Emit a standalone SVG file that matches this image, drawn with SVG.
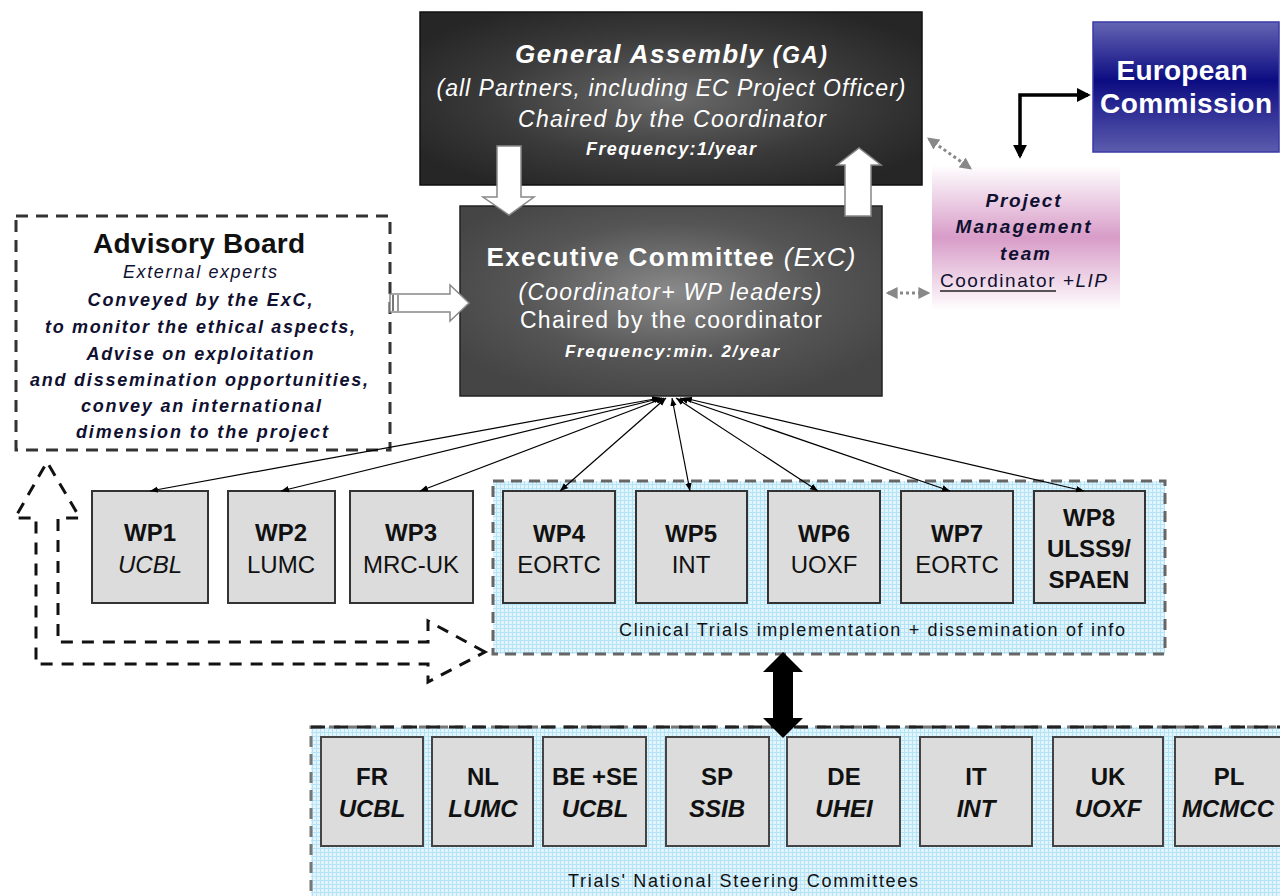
<svg xmlns="http://www.w3.org/2000/svg" width="1280" height="896" viewBox="0 0 1280 896">
<defs>
  <radialGradient id="gDarkGA" cx="0.5" cy="0.5" r="0.6">
    <stop offset="0" stop-color="#6a6a6a"/>
    <stop offset="0.6" stop-color="#3a3a3a"/>
    <stop offset="1" stop-color="#262626"/>
  </radialGradient>
  <radialGradient id="gDarkExC" cx="0.5" cy="0.45" r="0.6">
    <stop offset="0" stop-color="#8a8a8a"/>
    <stop offset="0.6" stop-color="#555555"/>
    <stop offset="1" stop-color="#454545"/>
  </radialGradient>
  <linearGradient id="gEC" x1="0" y1="0" x2="0" y2="1">
    <stop offset="0" stop-color="#6464b4"/>
    <stop offset="0.45" stop-color="#0c0c82"/>
    <stop offset="1" stop-color="#5c5cae"/>
  </linearGradient>
  <linearGradient id="gPM" x1="0" y1="0" x2="0" y2="1">
    <stop offset="0" stop-color="#ffffff"/>
    <stop offset="0.5" stop-color="#d89cc8"/>
    <stop offset="1" stop-color="#ffffff"/>
  </linearGradient>
  <pattern id="grid" width="4" height="4" patternUnits="userSpaceOnUse">
    <rect width="4" height="4" fill="#e2f5fd"/>
    <path d="M0,0.5 H4 M0.5,0 V4" stroke="#b4e2f6" stroke-width="1"/>
  </pattern>
  <marker id="mThin" viewBox="0 0 10 10" refX="10" refY="5" markerWidth="8" markerHeight="8" orient="auto-start-reverse" markerUnits="userSpaceOnUse">
    <path d="M0,1 L10,5 L0,9 Z" fill="#000"/>
  </marker>
  <marker id="mBlack" viewBox="0 0 10 10" refX="8" refY="5" markerWidth="14" markerHeight="14" orient="auto-start-reverse" markerUnits="userSpaceOnUse">
    <path d="M0,0 L10,5 L0,10 Z" fill="#000"/>
  </marker>
  <marker id="mGray" viewBox="0 0 10 10" refX="8" refY="5" markerWidth="12" markerHeight="12" orient="auto-start-reverse" markerUnits="userSpaceOnUse">
    <path d="M0,0 L10,5 L0,10 Z" fill="#888"/>
  </marker>
</defs>
<style>
  text { font-family: "Liberation Sans", Arial, sans-serif; }
  .wt { fill: #ffffff; }
  .dk { fill: #101030; }
  .b { font-weight: bold; }
  .i { font-style: italic; }
  .wp { fill: #dcdcdc; stroke: #333; stroke-width: 2; }
  .ct { fill: #dcdcdc; stroke: #444; stroke-width: 2; }
  .lbl { font-size: 24px; text-anchor: middle; fill: #111; }
  .thin { stroke: #000; stroke-width: 1.2; fill: none; marker-start: url(#mThin); marker-end: url(#mThin); }
  .dot { stroke: #888; stroke-width: 3; stroke-dasharray: 3 3; fill: none; marker-start: url(#mGray); marker-end: url(#mGray); }
  .blk { fill: #fff; stroke: #888; stroke-width: 1.5; }
</style>

<!-- containers -->
<g id="clinical-trials">
  <rect x="493" y="481" width="672" height="173" fill="url(#grid)" stroke="#666" stroke-width="3" stroke-dasharray="11 7"/>
  <text x="872" y="636" font-size="18" text-anchor="middle" textLength="506" fill="#111">Clinical Trials implementation + dissemination of info</text>
</g>
<g id="national-committees">
  <rect x="311" y="727" width="990" height="190" fill="url(#grid)" stroke="#777" stroke-width="3" stroke-dasharray="11 7"/>
  <line x1="311" y1="727" x2="1280" y2="727" stroke="#222" stroke-width="3" stroke-dasharray="14 9"/>
  <text x="743" y="887" font-size="18" text-anchor="middle" textLength="350" fill="#111">Trials' National Steering Committees</text>
</g>

<!-- General Assembly -->
<g id="general-assembly">
  <rect x="420" y="12" width="502" height="173" fill="url(#gDarkGA)" stroke="#111" stroke-width="1.5"/>
  <text x="671" y="63" class="wt b i" font-size="26" text-anchor="middle" textLength="312">General Assembly <tspan font-size="23">(GA)</tspan></text>
  <text x="671" y="96" class="wt i" font-size="23" text-anchor="middle" textLength="469">(all Partners, including EC Project Officer)</text>
  <text x="672" y="127" class="wt i" font-size="23" text-anchor="middle" textLength="308">Chaired by the Coordinator</text>
  <text x="671" y="155" class="wt b i" font-size="18" text-anchor="middle" textLength="170">Frequency:1/year</text>
</g>

<!-- European Commission -->
<g id="european-commission">
  <rect x="1093" y="22" width="186" height="130" fill="url(#gEC)" stroke="#3a3aa6" stroke-width="1.5"/>
  <text x="1182" y="80" class="wt b" font-size="28" text-anchor="middle" textLength="131">European</text>
  <text x="1186" y="113" class="wt b" font-size="28" text-anchor="middle" textLength="172">Commission</text>
</g>

<!-- Project Management team -->
<g id="project-management">
  <rect x="932" y="165" width="188" height="145" fill="url(#gPM)"/>
  <text x="1023" y="207" class="dk b i" font-size="19" text-anchor="middle" textLength="75">Project</text>
  <text x="1023" y="233" class="dk b i" font-size="19" text-anchor="middle" textLength="135">Management</text>
  <text x="1025" y="260" class="dk b i" font-size="19" text-anchor="middle" textLength="50">team</text>
  <text x="940" y="287" class="dk" font-size="19" textLength="167">Coordinator <tspan class="i">+LIP</tspan></text>
  <line x1="940" y1="291" x2="1056" y2="291" stroke="#222" stroke-width="1.5"/>
</g>

<!-- Executive Committee -->
<g id="executive-committee">
  <rect x="460" y="206" width="422" height="190" fill="url(#gDarkExC)" stroke="#222" stroke-width="1.5"/>
  <text x="671" y="266" class="wt b" font-size="26" text-anchor="middle" textLength="369">Executive Committee <tspan class="i" font-weight="normal">(ExC)</tspan></text>
  <text x="670" y="300" class="wt i" font-size="23" text-anchor="middle" textLength="303">(Coordinator+ WP leaders)</text>
  <text x="671" y="328" class="wt" font-size="23" text-anchor="middle" textLength="302">Chaired by the coordinator</text>
  <text x="672" y="357" class="wt b i" font-size="17" text-anchor="middle" textLength="214">Frequency:min. 2/year</text>
</g>

<!-- Advisory Board -->
<g id="advisory-board">
  <rect x="16" y="216" width="374" height="234" fill="#fff" stroke="#333" stroke-width="3" stroke-dasharray="12 8"/>
  <text x="199" y="253" class="b" font-size="28" text-anchor="middle" fill="#111" textLength="212">Advisory Board</text>
  <text x="200" y="278" class="dk i" font-size="18" text-anchor="middle" textLength="154">External experts</text>
  <text x="200" y="306" class="dk b i" font-size="18" text-anchor="middle" textLength="225">Conveyed by the ExC,</text>
  <text x="200" y="333" class="dk b i" font-size="18" text-anchor="middle" textLength="310">to monitor the ethical aspects,</text>
  <text x="200" y="360" class="dk b i" font-size="18" text-anchor="middle" textLength="227">Advise on exploitation</text>
  <text x="199" y="386" class="dk b i" font-size="18" text-anchor="middle" textLength="338">and dissemination opportunities,</text>
  <text x="201" y="412" class="dk b i" font-size="18" text-anchor="middle" textLength="240">convey an international</text>
  <text x="202" y="438" class="dk b i" font-size="18" text-anchor="middle" textLength="252">dimension to the project</text>
</g>

<!-- WP boxes -->
<g id="wp1"><rect class="wp" x="92" y="491" width="116" height="112"/>
  <text class="lbl b" x="150" y="541">WP1</text><text class="lbl i" x="150" y="573">UCBL</text></g>
<g id="wp2"><rect class="wp" x="228" y="491" width="107" height="112"/>
  <text class="lbl b" x="281" y="541">WP2</text><text class="lbl" x="281" y="573">LUMC</text></g>
<g id="wp3"><rect class="wp" x="350" y="491" width="123" height="112"/>
  <text class="lbl b" x="411" y="541">WP3</text><text class="lbl" x="411" y="573">MRC-UK</text></g>
<g id="wp4"><rect class="wp" x="503" y="491" width="112" height="112"/>
  <text class="lbl b" x="559" y="542">WP4</text><text class="lbl" x="559" y="573">EORTC</text></g>
<g id="wp5"><rect class="wp" x="636" y="491" width="111" height="112"/>
  <text class="lbl b" x="691" y="542">WP5</text><text class="lbl" x="691" y="573">INT</text></g>
<g id="wp6"><rect class="wp" x="768" y="491" width="112" height="112"/>
  <text class="lbl b" x="824" y="542">WP6</text><text class="lbl" x="824" y="573">UOXF</text></g>
<g id="wp7"><rect class="wp" x="901" y="491" width="112" height="112"/>
  <text class="lbl b" x="957" y="542">WP7</text><text class="lbl" x="957" y="573">EORTC</text></g>
<g id="wp8"><rect class="wp" x="1034" y="491" width="111" height="112"/>
  <text class="lbl b" x="1089" y="526">WP8</text><text class="lbl b" x="1089" y="557" font-size="22">ULSS9/</text><text class="lbl b" x="1089" y="588" font-size="22">SPAEN</text></g>

<!-- Country boxes -->
<g id="fr"><rect class="ct" x="321" y="737" width="102" height="109"/>
  <text class="lbl b" x="372" y="785">FR</text><text class="lbl b i" x="372" y="817">UCBL</text></g>
<g id="nl"><rect class="ct" x="432" y="737" width="101" height="109"/>
  <text class="lbl b" x="483" y="785">NL</text><text class="lbl b i" x="483" y="817">LUMC</text></g>
<g id="be-se"><rect class="ct" x="543" y="737" width="103" height="109"/>
  <text class="lbl b" x="595" y="785">BE +SE</text><text class="lbl b i" x="595" y="817">UCBL</text></g>
<g id="sp"><rect class="ct" x="666" y="737" width="103" height="109"/>
  <text class="lbl b" x="717" y="785">SP</text><text class="lbl b i" x="717" y="817">SSIB</text></g>
<g id="de"><rect class="ct" x="787" y="737" width="113" height="109"/>
  <text class="lbl b" x="844" y="785">DE</text><text class="lbl b i" x="844" y="817">UHEI</text></g>
<g id="it"><rect class="ct" x="920" y="737" width="112" height="109"/>
  <text class="lbl b" x="976" y="785">IT</text><text class="lbl b i" x="976" y="817">INT</text></g>
<g id="uk"><rect class="ct" x="1053" y="737" width="110" height="109"/>
  <text class="lbl b" x="1108" y="785">UK</text><text class="lbl b i" x="1108" y="817">UOXF</text></g>
<g id="pl"><rect class="ct" x="1175" y="737" width="120" height="109"/>
  <text class="lbl b" x="1229" y="785">PL</text><text class="b i" x="1182" y="817" font-size="24" fill="#111">MCMCC</text></g>

<!-- connectors -->
<g id="connectors">
  <line class="thin" x1="660" y1="398" x2="150" y2="491"/>
  <line class="thin" x1="662" y1="398" x2="281" y2="491"/>
  <line class="thin" x1="664" y1="398" x2="420" y2="491"/>
  <line class="thin" x1="666" y1="398" x2="560" y2="491"/>
  <line class="thin" x1="672" y1="398" x2="690" y2="491"/>
  <line class="thin" x1="676" y1="398" x2="818" y2="491"/>
  <line class="thin" x1="680" y1="398" x2="950" y2="491"/>
  <line class="thin" x1="684" y1="398" x2="1084" y2="491"/>

  <polygon class="blk" points="497,146 521,146 521,197 534,197 509,215 483,197 497,197"/>
  <polygon class="blk" points="845,216 871,216 871,165 881,165 859,148 837,165 845,165"/>

  <polygon class="blk" points="390,294 450,294 450,285 469,303 450,321 450,312 390,312"/>
  <line x1="393" y1="295" x2="393" y2="311" stroke="#777" stroke-width="2"/>
  <line x1="398" y1="295" x2="398" y2="311" stroke="#999" stroke-width="2"/>

  <path d="M485,652 L428,621 L428,642 L58,642 L58,518 L80,518 L47,462 L15,518 L36,518 L36,664 L428,664 L428,682 Z" fill="none" stroke="#111" stroke-width="3" stroke-dasharray="12 9"/>

  <line class="dot" x1="929" y1="139" x2="970" y2="168"/>
  <line class="dot" x1="888" y1="293" x2="928" y2="293"/>

  <path d="M1020,156 L1020,95 L1088,95" fill="none" stroke="#000" stroke-width="3.5" marker-start="url(#mBlack)" marker-end="url(#mBlack)"/>

  <polygon points="783,652 803,672 793,672 793,718 803,718 783,738 763,718 773,718 773,672 763,672" fill="#000"/>
</g>
</svg>
